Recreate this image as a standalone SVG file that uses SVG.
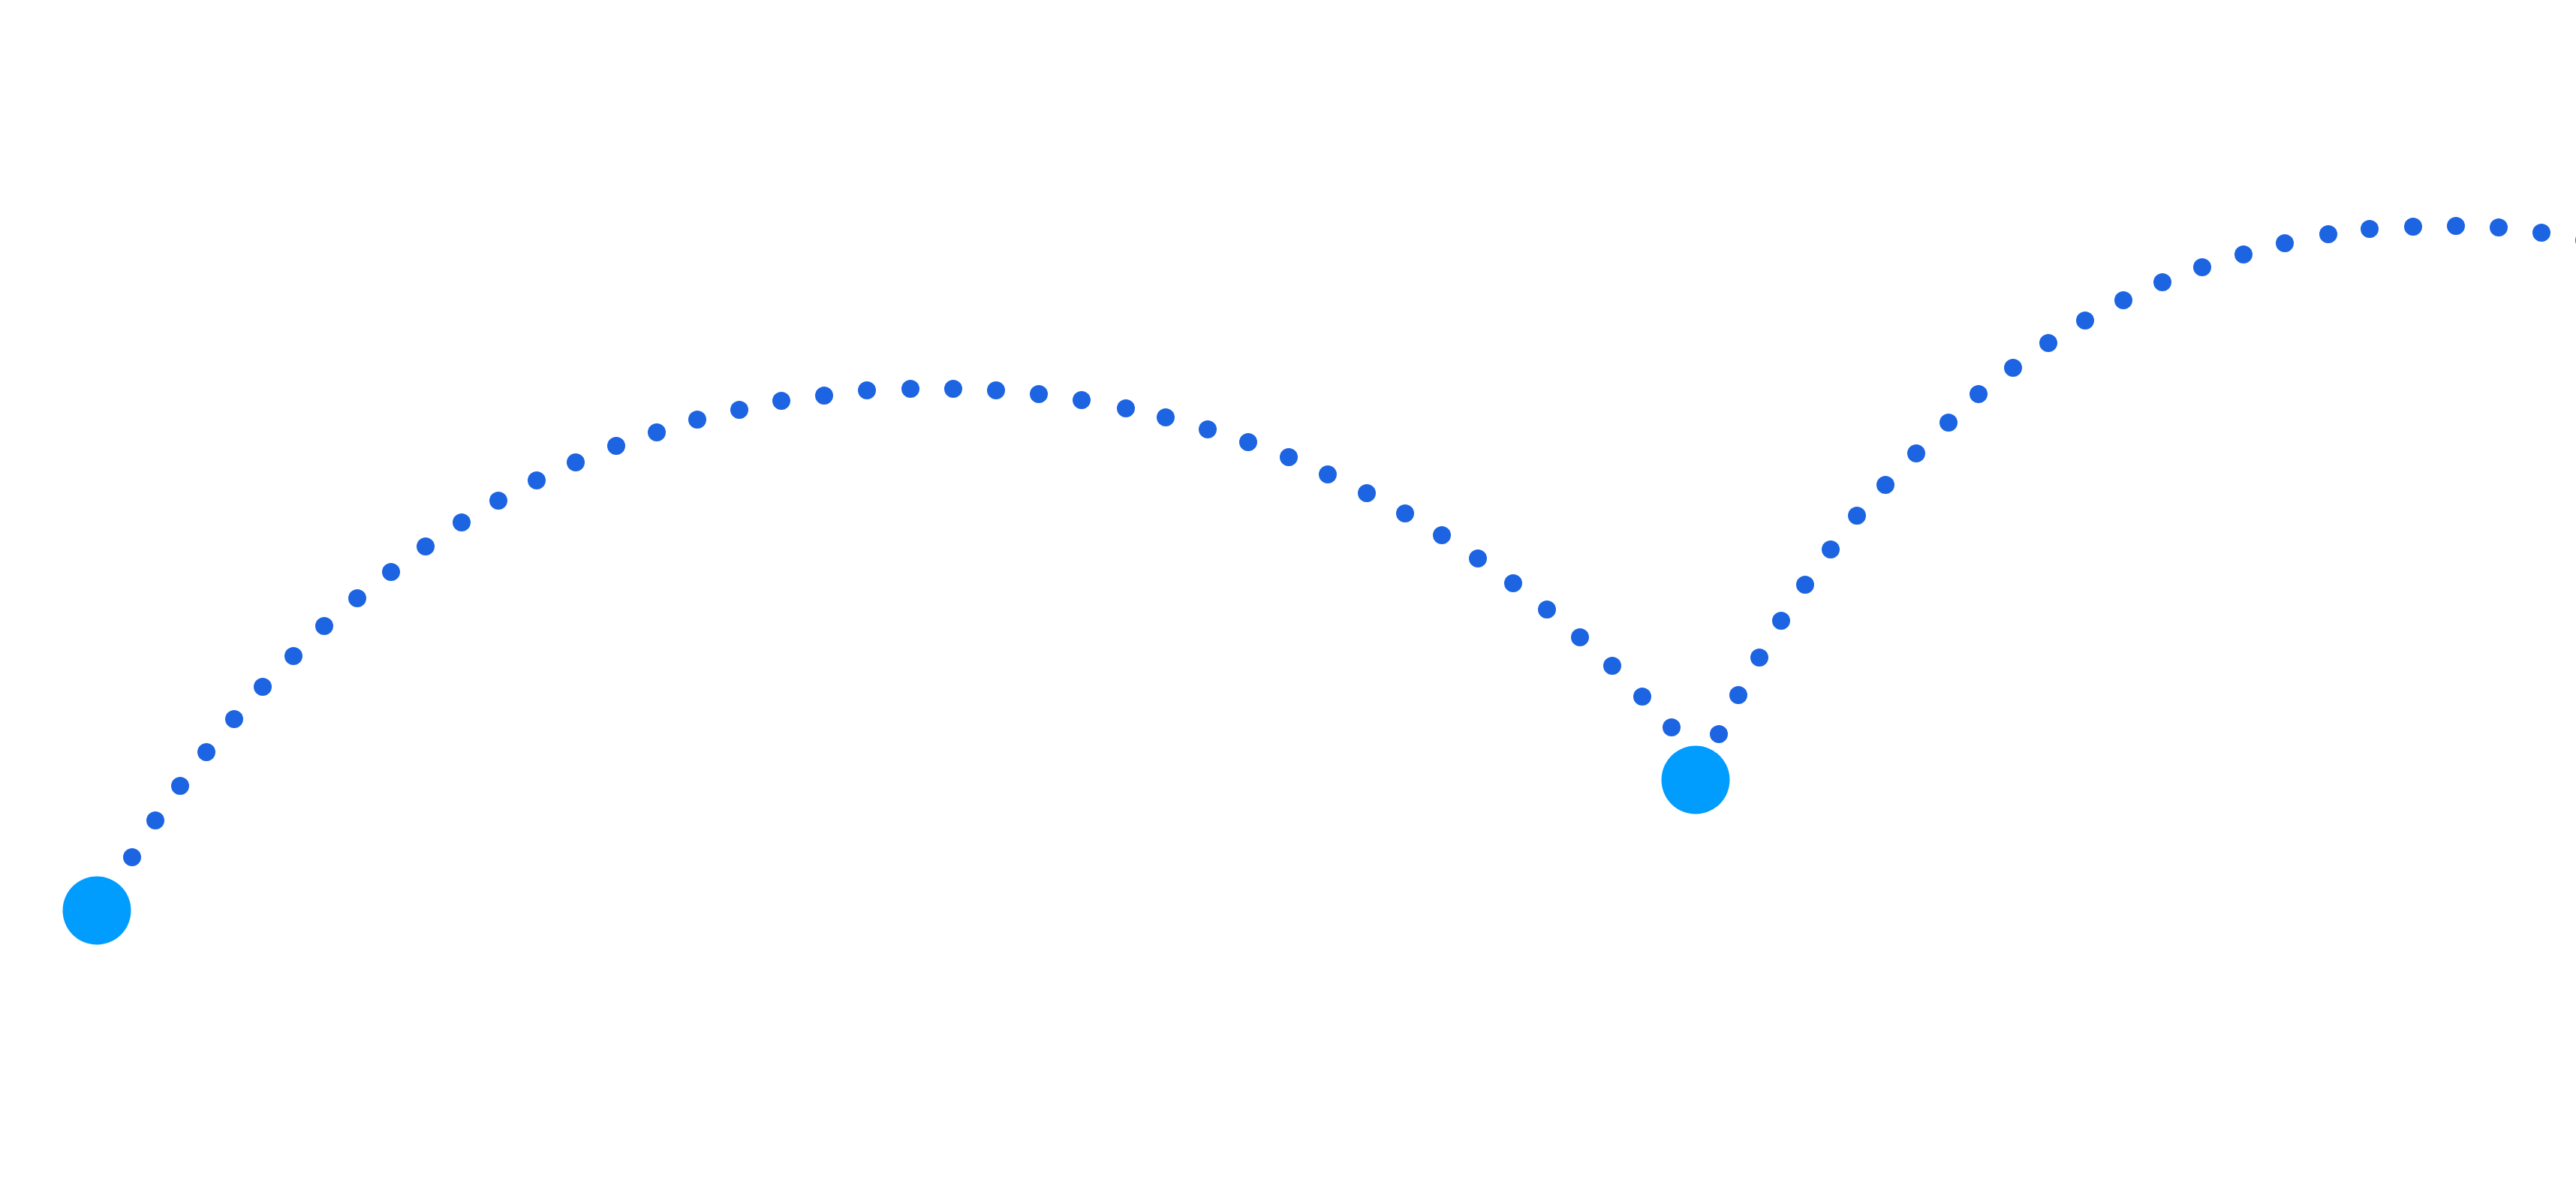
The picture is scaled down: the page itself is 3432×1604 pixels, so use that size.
<svg xmlns="http://www.w3.org/2000/svg" width="3432" height="1604" viewBox="0 0 3432 1604">
<style>
.node{fill:#009DFF}
.link{fill:none;stroke:none;marker-start:url(#dot);marker-mid:url(#dot);marker-end:url(#dot)}
</style>
<defs>
<marker id="dot" markerUnits="userSpaceOnUse" markerWidth="26" markerHeight="26" refX="13" refY="13" viewBox="0 0 26 26" overflow="visible">
<circle cx="13" cy="13" r="12" fill="#1C64E1"/>
</marker>
</defs>
<rect width="3432" height="1604" fill="#FFFFFF"/>
<g id="connectors">
<path id="link-1" class="link" d="M176,1142 L207,1093 L240,1047 L275,1002 L312,958 L350,915 L391,874 L432,834 L476,797 L521,762 L567,728 L615,696 L664,667 L715,640 L767,616 L821,594 L875,576 L929,559 L985,546 L1041,534 L1098,527 L1155,520 L1213,518 L1270,518 L1327,520 L1384,525 L1441,533 L1500,544 L1553,556 L1609,572 L1663,589 L1717,609 L1769,632 L1821,657 L1872,684 L1921,713 L1969,744 L2016,777 L2061,812 L2105,849 L2148,887 L2188,928 L2227,969"/>
<path id="link-2" class="link" d="M2290,978 L2316,926 L2344,876 L2373,827 L2405,779 L2439,732 L2474,687 L2512,646 L2553,604 L2596,563 L2636,525 L2682,490 L2729,457 L2778,427 L2829,400 L2881,376 L2934,356 L2989,339 L3044,324 L3102,312 L3157,305 L3215,302 L3272,301 L3329,303 L3386,310 L3443,320"/>
</g>
<g id="node-1"><circle class="node" cx="129" cy="1213" r="45.5"/></g>
<g id="node-2"><circle class="node" cx="2259" cy="1039" r="45.5"/></g>
</svg>
